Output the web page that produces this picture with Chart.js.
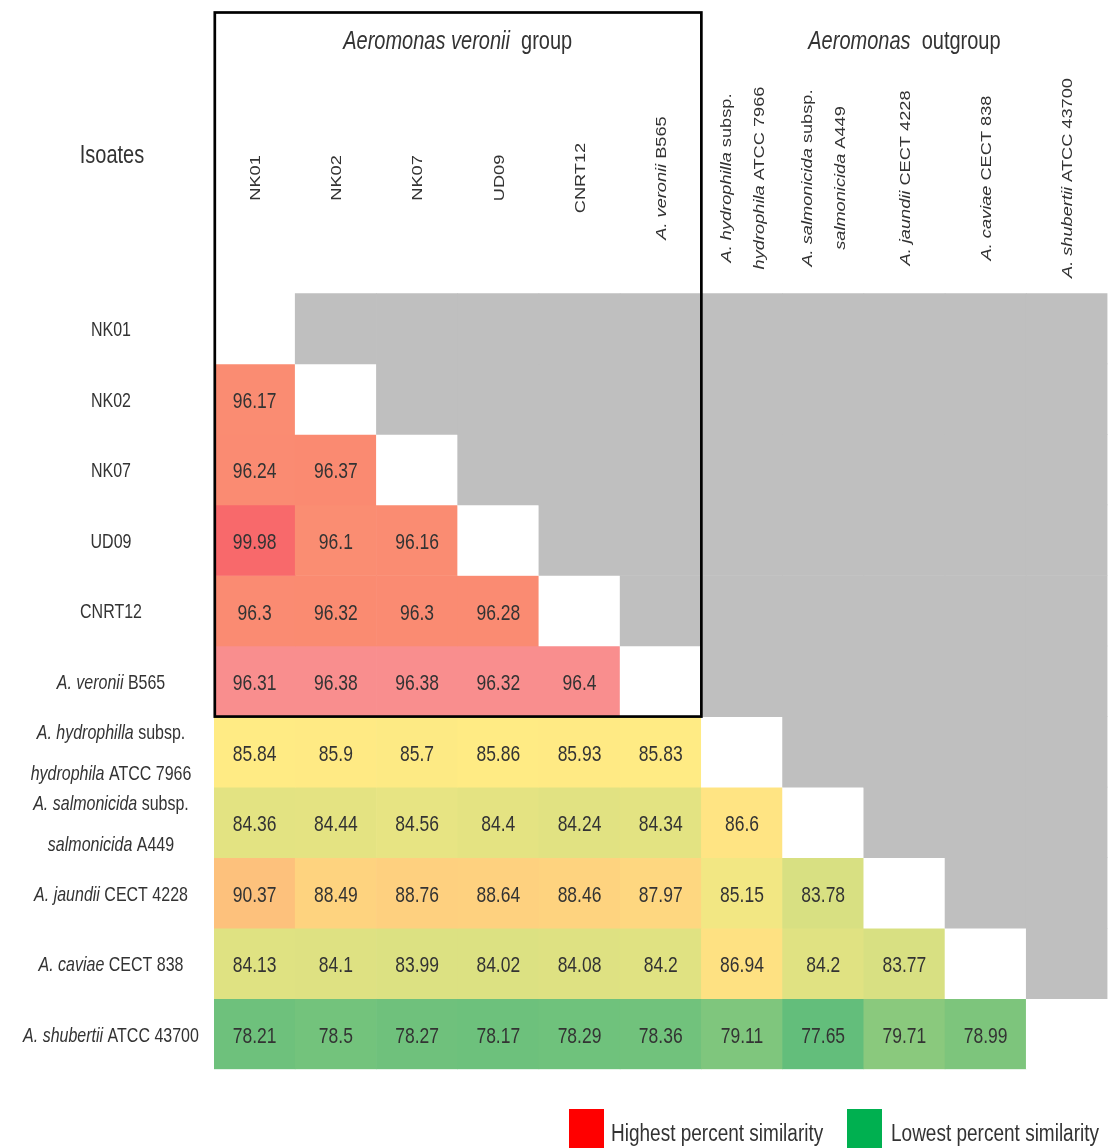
<!DOCTYPE html>
<html>
<head>
<meta charset="utf-8">
<title>Aeromonas pairwise similarity</title>
<script src="https://cdn.jsdelivr.net/npm/chart.js@4/dist/chart.umd.min.js"></script>
<style>
  html, body { margin: 0; padding: 0; background: #ffffff; }
  #wrap { width: 1110px; height: 1148px; position: relative; }
</style>
</head>
<body>
<div id="wrap"><canvas id="heat"></canvas></div>
<script>
// Isolates in matrix order. *...* marks an italic run, \n breaks a line.
const isolates = [
  'NK01', 'NK02', 'NK07', 'UD09', 'CNRT12',
  '*A. veronii* B565',
  '*A. hydrophilla* subsp.\n*hydrophila* ATCC 7966',
  '*A. salmonicida* subsp.\n*salmonicida* A449',
  '*A. jaundii* CECT 4228',
  '*A. caviae* CECT 838',
  '*A. shubertii* ATCC 43700'
];

// Percent similarity, lower triangle: each row against the isolates before it.
const simNK01        = [];
const simNK02        = [96.17];
const simNK07        = [96.24, 96.37];
const simUD09        = [99.98, 96.1, 96.16];
const simCNRT12      = [96.3, 96.32, 96.3, 96.28];
const simVeronii     = [96.31, 96.38, 96.38, 96.32, 96.4];
const simHydrophila  = [85.84, 85.9, 85.7, 85.86, 85.93, 85.83];
const simSalmonicida = [84.36, 84.44, 84.56, 84.4, 84.24, 84.34, 86.6];
const simJaundii     = [90.37, 88.49, 88.76, 88.64, 88.46, 87.97, 85.15, 83.78];
const simCaviae      = [84.13, 84.1, 83.99, 84.02, 84.08, 84.2, 86.94, 84.2, 83.77];
const simShubertii   = [78.21, 78.5, 78.27, 78.17, 78.29, 78.36, 79.11, 77.65, 79.71, 78.99];

const groupTitles  = ['*Aeromonas veronii*  group', '*Aeromonas*  outgroup'];
const cornerLabel  = 'Isoates';
const legendLabels = ['Highest percent similarity', 'Lowest percent similarity'];

const rows = [simNK01, simNK02, simNK07, simUD09, simCNRT12, simVeronii,
              simHydrophila, simSalmonicida, simJaundii, simCaviae, simShubertii];

// ---- colour scale: green (lowest) -> yellow (median) -> red (highest) ----
const LOW = [99, 190, 123], MID = [255, 235, 132], HIGH = [248, 105, 107];
const allValues = rows.flat().slice().sort((a, b) => a - b);
const vMin = allValues[0];
const vMax = allValues[allValues.length - 1];
const vMid = allValues[Math.floor(allValues.length / 2)];
function mix(a, b, t) {
  return 'rgb(' + a.map((c, i) => Math.round(c + (b[i] - c) * t)).join(',') + ')';
}
function scaleColor(v) {
  if (v <= vMid) return mix(LOW, MID, (v - vMin) / (vMid - vMin));
  return mix(MID, HIGH, (v - vMid) / (vMax - vMid));
}
const TYPE_STRAIN_ROW = 5;          // A. veronii B565 row is shaded pink
const TYPE_STRAIN_FILL = '#F98E8E';
const DIAGONAL_FILL = '#FFFFFF';
const UPPER_FILL = '#BFBFBF';

function cellFill(r, c) {
  if (c === r) return DIAGONAL_FILL;
  if (c > r) return UPPER_FILL;
  if (r === TYPE_STRAIN_ROW) return TYPE_STRAIN_FILL;
  return scaleColor(rows[r][c]);
}

// One floating-bar dataset per matrix row; each bar spans [row, row + 1].
const datasets = rows.map((vals, r) => ({
  label: isolates[r],
  data: isolates.map(() => [r, r + 1]),
  backgroundColor: isolates.map((_, c) => cellFill(r, c)),
  borderWidth: 0,
  grouped: false,
  barPercentage: 1,
  categoryPercentage: 1
}));

// ---- text helpers (text is drawn slightly stretched vertically) ----
const SY = 1.3;
const FAMILY = '"Liberation Sans", Arial, Helvetica, sans-serif';
const INK = '#333333';
function parseRuns(s) {
  return s.split('\n').map(line =>
    line.split('*').map((t, i) => ({ text: t, italic: i % 2 === 1 })).filter(p => p.text.length));
}
function fontFor(size, italic) { return (italic ? 'italic ' : '') + size + 'px ' + FAMILY; }
function runsWidth(ctx, runs, size) {
  let w = 0;
  runs.forEach(r => { ctx.font = fontFor(size, r.italic); w += ctx.measureText(r.text).width; });
  return w;
}
function drawRuns(ctx, runs, size, x, y, align) {
  const w = runsWidth(ctx, runs, size);
  let cx = align === 'center' ? x - w / 2 : (align === 'right' ? x - w : x);
  ctx.textAlign = 'left';
  ctx.textBaseline = 'middle';
  runs.forEach(r => {
    ctx.font = fontFor(size, r.italic);
    ctx.fillText(r.text, cx, y);
    cx += ctx.measureText(r.text).width;
  });
}
function drawLabel(ctx, s, x, y, o) {
  const size = o.size, align = o.align || 'center', gap = o.gap || 0;
  const lines = parseRuns(s);
  const n = lines.length;
  ctx.save();
  ctx.fillStyle = o.color || INK;
  ctx.translate(x, y);
  ctx.scale(1, SY);
  if (o.rotate) ctx.rotate(-Math.PI / 2);
  lines.forEach((runs, i) => {
    const off = (i - (n - 1) / 2) * gap;
    drawRuns(ctx, runs, size, 0, o.rotate ? off : off / SY, align);
  });
  ctx.restore();
}

const annotate = {
  id: 'annotate',
  afterDatasetsDraw(chart) {
    const ctx = chart.ctx;
    const xs = chart.scales.x, ys = chart.scales.y;
    const area = chart.chartArea;

    // values inside the lower-triangle cells
    rows.forEach((vals, r) => {
      const meta = chart.getDatasetMeta(r);
      vals.forEach((v, c) => {
        const el = meta.data[c];
        drawLabel(ctx, String(v), el.x, (el.y + el.base) / 2 + 2.5, { size: 17.5 });
      });
    });

    // row labels
    isolates.forEach((name, r) => {
      drawLabel(ctx, name, 111, ys.getPixelForValue(r + 0.5) + 2, { size: 16, gap: 41 });
    });
    // column labels (rotated)
    isolates.forEach((name, c) => {
      drawLabel(ctx, name, xs.getPixelForValue(c) + 1.5, 178, { size: 14, gap: 33, rotate: true });
    });
    drawLabel(ctx, cornerLabel, 112, 156, { size: 20 });

    // frame around the A. veronii group
    const split = (xs.getPixelForValue(5) + xs.getPixelForValue(6)) / 2;
    const top = 12.5, bottom = ys.getPixelForValue(6);
    ctx.save();
    ctx.strokeStyle = '#000000';
    ctx.lineWidth = 2.7;
    ctx.strokeRect(area.left + 0.8, top, split - area.left - 0.8, bottom - top);
    ctx.restore();

    drawLabel(ctx, groupTitles[0], (area.left + split) / 2, 42, { size: 20 });
    drawLabel(ctx, groupTitles[1], (split + area.right) / 2, 42, { size: 20 });

    // legend
    const legend = [
      { fill: '#FF0000', box: 569, text: 611 },
      { fill: '#00B050', box: 847, text: 891 }
    ];
    legend.forEach((l, i) => {
      ctx.fillStyle = l.fill;
      ctx.fillRect(l.box, 1109, 35, 39);
      drawLabel(ctx, legendLabels[i], l.text, 1134, { size: 19, align: 'left' });
    });
  }
};

new Chart(document.getElementById('heat'), {
  type: 'bar',
  data: { labels: isolates, datasets },
  options: {
    responsive: true,
    maintainAspectRatio: false,
    animation: false,
    events: [],
    layout: { padding: { left: 214, right: 2.5, top: 293.3, bottom: 78.7 } },
    plugins: { legend: { display: false }, tooltip: { enabled: false }, title: { display: false } },
    scales: {
      x: { type: 'category', display: false, offset: true, grid: { display: false } },
      y: { type: 'linear', display: false, min: 0, max: 11, reverse: true, grid: { display: false } }
    }
  },
  plugins: [annotate]
});
</script>
</body>
</html>
